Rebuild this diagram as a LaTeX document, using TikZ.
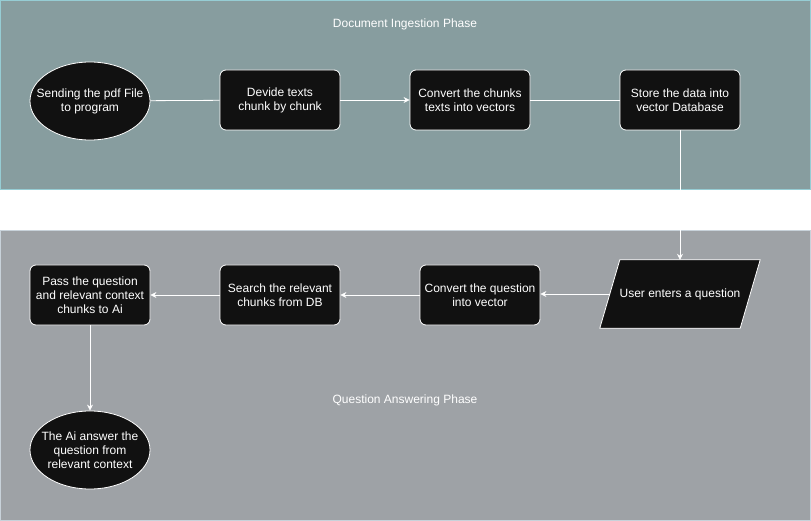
\documentclass[tikz,border=0pt]{standalone}
\usepackage{fontspec}
\setmainfont{Liberation Sans}
\usetikzlibrary{shapes.geometric,arrows.meta}
\definecolor{topfill}{RGB}{135,157,159}
\definecolor{topline}{RGB}{150,205,212}
\definecolor{botfill}{RGB}{158,162,166}
\definecolor{botline}{RGB}{200,210,218}
\definecolor{boxfill}{RGB}{17,17,17}
\tikzset{
  txt/.style={text=white, align=center, font=\fontsize{12}{14}\selectfont},
  procbox/.style={txt, draw=white, fill=boxfill, rounded corners=6pt, minimum width=120pt, minimum height=60pt, line width=0.8pt, inner sep=2pt},
  termbox/.style={txt, draw=white, fill=boxfill, ellipse, minimum width=120pt, minimum height=78pt, line width=0.8pt, inner xsep=-18pt, inner ysep=-6pt},
  ioframe/.style={rectangle, minimum width=160pt, minimum height=68pt, inner sep=0pt},
  conn/.style={draw=white, line width=0.8pt},
  arr/.style={conn, -{Stealth[length=6pt,width=6pt]}},
  phasetitle/.style={text=white, font=\fontsize{12}{14}\selectfont}
}
\begin{document}
\begin{tikzpicture}[x=1pt,y=-1pt]
\useasboundingbox (0,0) rectangle (811,521);
\fill[white] (0,0) rectangle (811,521);
\draw[fill=topfill, draw=topline, line width=1pt] (0.5,0.5) rectangle (810.5,190);
\draw[fill=botfill, draw=botline, line width=1pt] (0.5,230.5) rectangle (810.5,520.5);
\node[phasetitle] (t1) at (405,24) {Document Ingestion Phase};
\node[phasetitle] (t2) at (405,400) {Question Answering Phase};

\node[termbox] (send) at (90,101) {Sending the pdf File\\to program};
\node[procbox] (devide) at (280,100) {Devide texts\\chunk by chunk};
\node[procbox] (convc) at (470,100) {Convert the chunks\\texts into vectors};
\node[procbox] (store) at (680,100) {Store the data into\\vector Database};

\node[ioframe] (user) at (680,294) {};
\draw[draw=white, fill=boxfill, line width=0.8pt] (user.south west) -- ([xshift=20pt]user.north west) -- (user.north east) -- ([xshift=-20pt]user.south east) -- cycle;
\node[txt] (usertxt) at (user) {User enters a question};
\coordinate (userleft) at ([xshift=10pt]user.west);

\node[procbox] (convq) at (480,295) {Convert the question\\into vector};
\node[procbox] (search) at (280,295) {Search the relevant\\chunks from DB};
\node[procbox] (pass) at (90,295) {Pass the question\\and relevant context\\chunks to Ai};
\node[termbox] (answer) at (90,450) {The Ai answer the\\question from\\relevant context};

\draw[conn] (send) -- (devide);
\draw[arr] (devide) -- (convc);
\draw[conn] (convc) -- (store);
\draw[arr] (store.south) -- (user.north -| store.south);
\draw[arr] (userleft) -- (convq.east |- userleft);
\draw[arr] (convq) -- (search);
\draw[arr] (search) -- (pass);
\draw[arr] (pass) -- (answer);
\end{tikzpicture}
\end{document}
